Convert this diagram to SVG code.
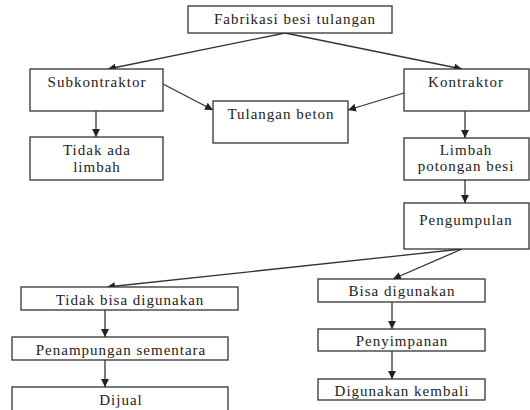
<svg xmlns="http://www.w3.org/2000/svg" width="530" height="410" viewBox="0 0 530 410">
<style>
.box{fill:#fff;stroke:#333;stroke-width:1.3}
.t{font-family:"Liberation Serif",serif;font-size:15px;letter-spacing:1px;fill:#222;text-anchor:middle}
.c{stroke:#333;stroke-width:1.3;fill:none;marker-end:url(#ah)}
</style>
<defs>
<marker id="ah" viewBox="0 0 10 10" refX="10" refY="5" markerWidth="8" markerHeight="8" markerUnits="userSpaceOnUse" orient="auto">
<path d="M0,0 L10,5 L0,10 z" fill="#222"/>
</marker>
</defs>
<rect width="530" height="410" fill="#fff"/>
<g id="connectors">
<line class="c" x1="285" y1="33" x2="108" y2="69"/>
<line class="c" x1="285" y1="33" x2="462" y2="69"/>
<line class="c" x1="163" y1="84" x2="213" y2="110"/>
<line class="c" x1="404" y1="93" x2="348" y2="110"/>
<line class="c" x1="96" y1="111" x2="96" y2="137"/>
<line class="c" x1="465" y1="111" x2="465" y2="138"/>
<line class="c" x1="465" y1="180" x2="465" y2="203"/>
<line class="c" x1="462" y1="249" x2="107" y2="287"/>
<line class="c" x1="462" y1="249" x2="393" y2="279"/>
<line class="c" x1="105" y1="310" x2="105" y2="337"/>
<line class="c" x1="105" y1="360" x2="105" y2="387"/>
<line class="c" x1="392" y1="302" x2="392" y2="329"/>
<line class="c" x1="392" y1="351" x2="392" y2="379"/>
</g>
<g id="fabrikasi"><rect class="box" x="188" y="6" width="204" height="27"/><text class="t" x="295" y="24">Fabrikasi besi tulangan</text></g>
<g id="subkontraktor"><rect class="box" x="30" y="69" width="133" height="42"/><text class="t" x="97" y="87">Subkontraktor</text></g>
<g id="tidak-ada-limbah"><rect class="box" x="30" y="137" width="133" height="43"/><text class="t" x="97" y="155">Tidak ada</text><text class="t" x="97" y="172">limbah</text></g>
<g id="tulangan-beton"><rect class="box" x="213" y="101" width="135" height="42"/><text class="t" x="281" y="119">Tulangan beton</text></g>
<g id="kontraktor"><rect class="box" x="404" y="69" width="125" height="42"/><text class="t" x="466" y="87">Kontraktor</text></g>
<g id="limbah"><rect class="box" x="404" y="138" width="125" height="42"/><text class="t" x="466" y="155">Limbah</text><text class="t" x="466" y="171">potongan besi</text></g>
<g id="pengumpulan"><rect class="box" x="404" y="203" width="125" height="46"/><text class="t" x="466" y="225">Pengumpulan</text></g>
<g id="bisa-digunakan"><rect class="box" x="318" y="279" width="167" height="23"/><text class="t" x="402" y="296">Bisa digunakan</text></g>
<g id="penyimpanan"><rect class="box" x="318" y="329" width="167" height="22"/><text class="t" x="402" y="346">Penyimpanan</text></g>
<g id="digunakan-kembali"><rect class="box" x="318" y="379" width="167" height="21"/><text class="t" x="402" y="396">Digunakan kembali</text></g>
<g id="tidak-bisa-digunakan"><rect class="box" x="21" y="287" width="217" height="23"/><text class="t" x="130" y="305">Tidak bisa digunakan</text></g>
<g id="penampungan"><rect class="box" x="12" y="337" width="216" height="23"/><text class="t" x="121" y="355">Penampungan sementara</text></g>
<g id="dijual"><rect class="box" x="12" y="387" width="216" height="30"/><text class="t" x="121" y="405">Dijual</text></g>
</svg>
